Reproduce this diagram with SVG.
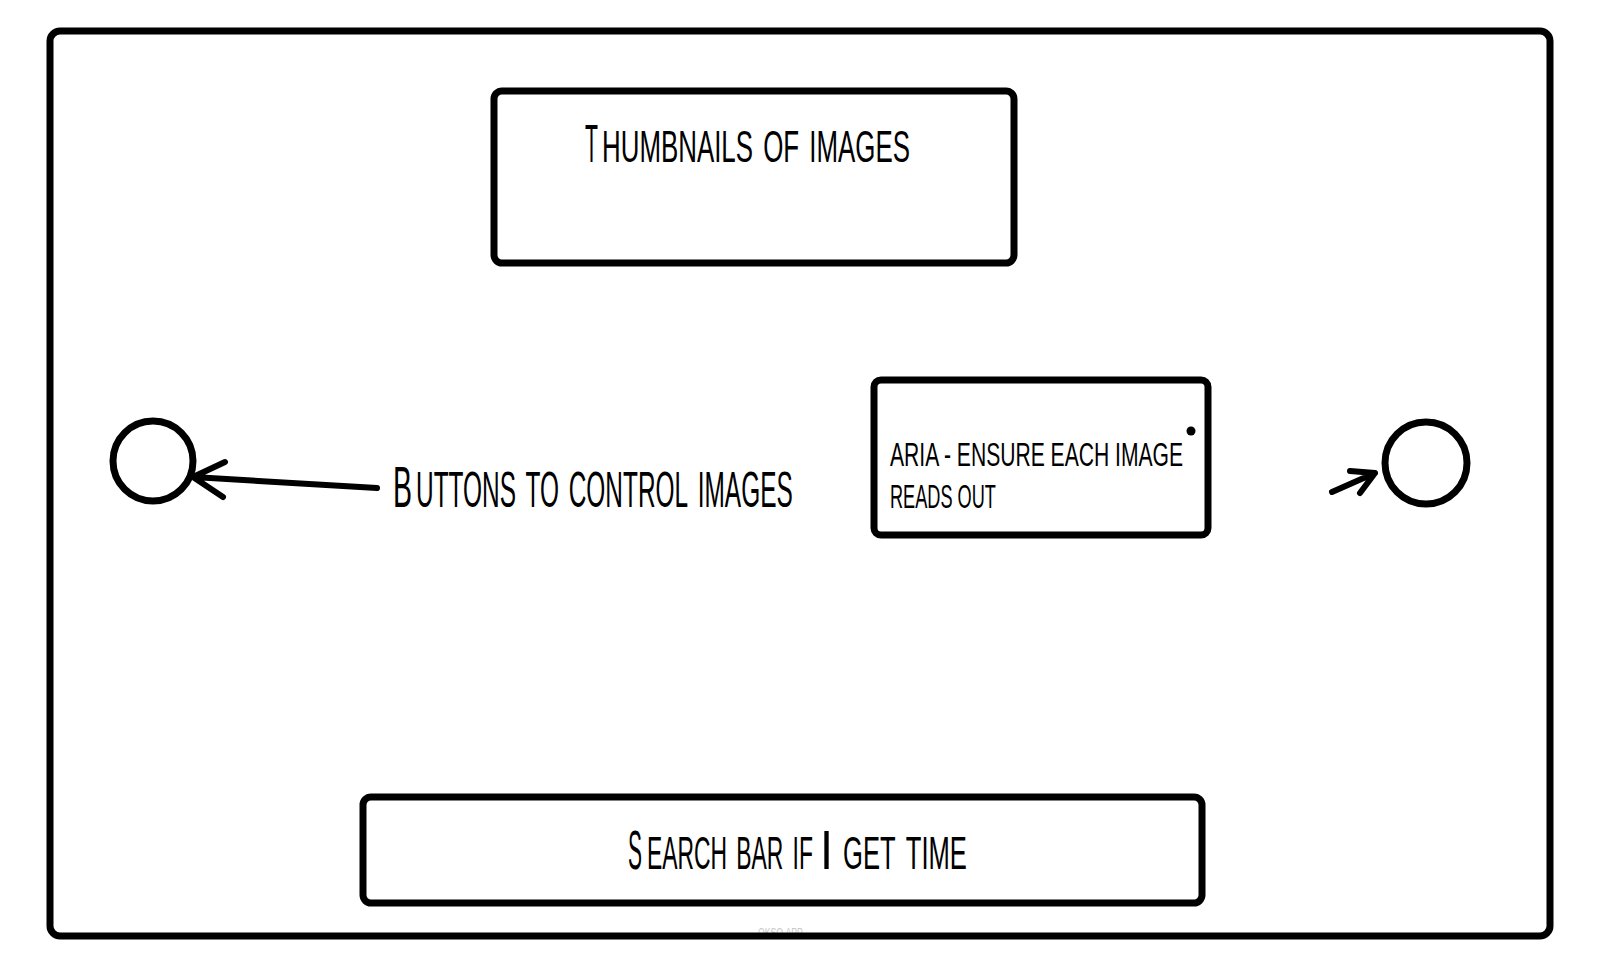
<svg xmlns="http://www.w3.org/2000/svg" width="1600" height="967" viewBox="0 0 1600 967">
<style>
.box{fill:none;stroke:#000;stroke-width:7;}
.ln{fill:none;stroke:#000;stroke-width:6;stroke-linecap:round;stroke-linejoin:round;}
.t{font-family:"Liberation Sans","DejaVu Sans",sans-serif;font-variant:small-caps;fill:#000;}
.c{font-family:"Liberation Sans","DejaVu Sans",sans-serif;fill:#000;font-size:34px;}
.wm{font-family:"Liberation Sans",sans-serif;fill:#c8c8c8;font-size:13px;}
</style>
<rect width="1600" height="967" fill="#fff"/>
<text class="wm" transform="translate(758,937) scale(0.67,1)" x="0" y="0" textLength="67" lengthAdjust="spacingAndGlyphs">OKSO.APP</text>
<g id="frame"><rect class="box" x="50" y="31" width="1500" height="905" rx="10"/></g>
<g id="thumbnails">
<rect class="box" x="494" y="91" width="520" height="172" rx="8"/>
<text class="t" transform="translate(585,162) scale(0.40,1)" x="0" y="0" font-size="53" textLength="32.4" lengthAdjust="spacingAndGlyphs">T</text>
<text class="t" transform="translate(602,162) scale(0.596,1)" x="0" y="0" font-size="62" textLength="516.8" lengthAdjust="spacingAndGlyphs">humbnails of images</text>
</g>
<g id="aria">
<rect class="box" x="874" y="380" width="334" height="155" rx="7"/>
<text class="c" transform="translate(890,466) scale(0.618,1)" x="0" y="0" textLength="474.2" lengthAdjust="spacingAndGlyphs">ARIA - ENSURE EACH IMAGE</text>
<text class="c" transform="translate(890,508) scale(0.534,1)" x="0" y="0" textLength="198.4" lengthAdjust="spacingAndGlyphs">READS OUT</text>
<circle cx="1191" cy="431" r="4.5" fill="#000"/>
</g>
<g id="search">
<rect class="box" x="363" y="797" width="839" height="106" rx="8"/>
<text class="t" transform="translate(628,869) scale(0.374,1)" x="0" y="0" font-size="56" textLength="37.4" lengthAdjust="spacingAndGlyphs">S</text>
<text class="t" transform="translate(647,869) scale(0.496,1)" x="0" y="0" font-size="66" textLength="334.5" lengthAdjust="spacingAndGlyphs">earch bar if</text>
<text class="t" transform="translate(820,869) scale(0.835,1)" x="0" y="0" font-size="56" textLength="15.6" lengthAdjust="spacingAndGlyphs">I</text>
<text class="t" transform="translate(843,869) scale(0.554,1)" x="0" y="0" font-size="66" textLength="223.7" lengthAdjust="spacingAndGlyphs">get time</text>
</g>
<g id="buttons-label">
<text class="t" transform="translate(393,507) scale(0.491,1)" x="0" y="0" font-size="58" textLength="38.7" lengthAdjust="spacingAndGlyphs">B</text>
<text class="t" transform="translate(416,507) scale(0.497,1)" x="0" y="0" font-size="70" textLength="758" lengthAdjust="spacingAndGlyphs">uttons to control images</text>
</g>
<g id="left-button"><circle class="box" cx="153" cy="461" r="40"/></g>
<g id="right-button"><circle class="box" cx="1426" cy="463" r="41"/></g>
<g id="connectors">
<path class="ln" d="M377 488 L193 477 M225 462 L193 477 L223 497"/>
<path class="ln" d="M1332 492 L1375 473 M1350 471 L1375 473 L1360 493"/>
</g>
</svg>
